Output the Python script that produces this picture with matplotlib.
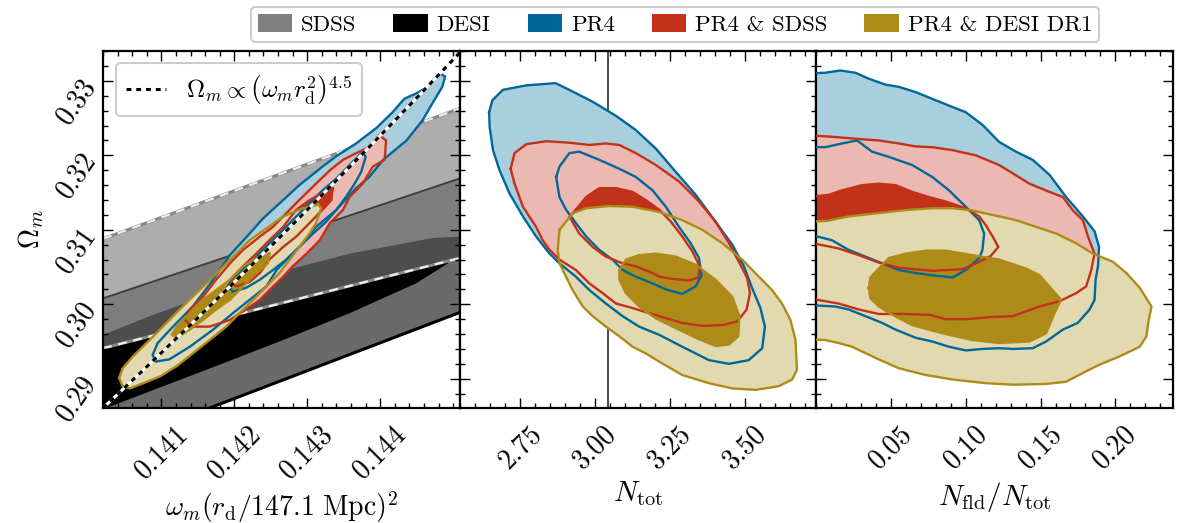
import numpy as np
import matplotlib
matplotlib.use('Agg')
import matplotlib.pyplot as plt
from matplotlib.patches import Patch
from matplotlib.ticker import MultipleLocator, FixedLocator

plt.rcParams['font.family'] = 'serif'
plt.rcParams['font.serif'] = ['cmr10']
plt.rcParams['mathtext.fontset'] = 'cm'
plt.rcParams['axes.unicode_minus'] = False
plt.rcParams['axes.formatter.use_mathtext'] = True

# colours
blue, blue_lt = '#00679a', '#a9cedd'
red, red_lt = '#c2311a', '#ebb9b2'
gold, gold_lt = '#ae8b18', '#e2d9b1'

# ---------------- panel 1: Omega_m vs omega_m r_d^2 ----------------
# BAO bands
band_x = [0.14020, 0.14509]
sdss_outer_hi = [0.3088, 0.3263]      # upper dashed edge
sdss_inner_hi = [0.3008, 0.3169]      # solid edge
bao_mid = [0.2941, 0.3062]            # white dashed edge
desi_outer_lo = [0.2806, 0.2989]      # thick black edge
desi_curve_x = [0.14020, 0.14084, 0.14221, 0.14358, 0.14472, 0.14509]
desi_curve_y = [0.2959, 0.2984, 0.3033, 0.3068, 0.3089, 0.3091]
desi_lens_x = [0.14020, 0.14084, 0.14175, 0.14267, 0.14358, 0.14449, 0.14493]
desi_lens_y = [0.2859, 0.2883, 0.2917, 0.2952, 0.2988, 0.3028, 0.3055]
desi_lens_top_x = [0.14493, 0.14020]
desi_lens_top_y = [0.3058, 0.2941]

ref_anchor = (0.14020, 0.28607)   # point on Omega_m ~ (omega_m r_d^2)^4.5
ref_power = 4.5

p1 = {
    'PR4': {
        'outer': ([0.14482, 0.14489, 0.14485, 0.14474, 0.14458, 0.14436, 0.14404, 0.14385, 0.14367, 0.14340,
                   0.14312, 0.14294, 0.14276, 0.14258, 0.14244, 0.14221, 0.14198, 0.14171, 0.14139, 0.14111,
                   0.14092, 0.14088, 0.14095, 0.14116, 0.14143, 0.14171, 0.14194, 0.14221, 0.14239, 0.14267,
                   0.14289, 0.14321, 0.14340, 0.14367, 0.14395, 0.14417, 0.14433, 0.14449, 0.14465, 0.14474],
                  [0.3310, 0.3306, 0.3292, 0.3274, 0.3247, 0.3220, 0.3194, 0.3171, 0.3156, 0.3127,
                   0.3104, 0.3082, 0.3064, 0.3046, 0.3024, 0.3006, 0.2988, 0.2966, 0.2943, 0.2926,
                   0.2923, 0.2932, 0.2948, 0.2970, 0.2997, 0.3033, 0.3066, 0.3095, 0.3115, 0.3140,
                   0.3160, 0.3185, 0.3199, 0.3216, 0.3237, 0.3258, 0.3276, 0.3283, 0.3292, 0.3303]),
        'inner': ([0.14376, 0.14380, 0.14374, 0.14365, 0.14353, 0.14340, 0.14326, 0.14308, 0.14289, 0.14271,
                   0.14253, 0.14235, 0.14216, 0.14198, 0.14191, 0.14198, 0.14212, 0.14230, 0.14248, 0.14267,
                   0.14285, 0.14303, 0.14321, 0.14340, 0.14358, 0.14369],
                  [0.3205, 0.3198, 0.3178, 0.3162, 0.3144, 0.3127, 0.3111, 0.3095, 0.3077, 0.3060,
                   0.3046, 0.3033, 0.3022, 0.3017, 0.3024, 0.3035, 0.3048, 0.3064, 0.3082, 0.3100,
                   0.3118, 0.3136, 0.3153, 0.3169, 0.3187, 0.3198]),
    },
    'PR4 & SDSS': {
        'outer': ([0.14399, 0.14408, 0.14406, 0.14390, 0.14376, 0.14358, 0.14349, 0.14331, 0.14317, 0.14299,
                   0.14280, 0.14267, 0.14248, 0.14235, 0.14216, 0.14194, 0.14166, 0.14143, 0.14132, 0.14139,
                   0.14157, 0.14175, 0.14194, 0.14212, 0.14235, 0.14253, 0.14276, 0.14289, 0.14312, 0.14331,
                   0.14349, 0.14367, 0.14385],
                  [0.3227, 0.3220, 0.3194, 0.3185, 0.3162, 0.3144, 0.3127, 0.3109, 0.3086, 0.3068,
                   0.3051, 0.3037, 0.3019, 0.3006, 0.2993, 0.2979, 0.2970, 0.2970, 0.2979, 0.2993,
                   0.3010, 0.3033, 0.3055, 0.3073, 0.3091, 0.3104, 0.3127, 0.3140, 0.3162, 0.3180,
                   0.3194, 0.3203, 0.3211]),
        'inner': ([0.14335, 0.14333, 0.14321, 0.14303, 0.14285, 0.14267, 0.14248, 0.14235, 0.14221, 0.14203,
                   0.14196, 0.14198, 0.14212, 0.14230, 0.14248, 0.14267, 0.14285, 0.14303, 0.14321],
                  [0.3156, 0.3140, 0.3127, 0.3109, 0.3091, 0.3077, 0.3060, 0.3042, 0.3030, 0.3024,
                   0.3028, 0.3037, 0.3051, 0.3068, 0.3086, 0.3104, 0.3127, 0.3140, 0.3149]),
    },
    'PR4 & DESI DR1': {
        'outer': ([0.14315, 0.14319, 0.14312, 0.14303, 0.14289, 0.14276, 0.14262, 0.14244, 0.14226, 0.14207,
                   0.14189, 0.14166, 0.14143, 0.14121, 0.14098, 0.14075, 0.14057, 0.14047, 0.14042, 0.14047,
                   0.14061, 0.14084, 0.14125, 0.14171, 0.14221, 0.14267, 0.14294],
                  [0.3134, 0.3129, 0.3109, 0.3095, 0.3077, 0.3060, 0.3042, 0.3024, 0.3006, 0.2988,
                   0.2970, 0.2952, 0.2934, 0.2917, 0.2903, 0.2894, 0.2887, 0.2890, 0.2901, 0.2914,
                   0.2930, 0.2952, 0.2993, 0.3037, 0.3086, 0.3118, 0.3129]),
        'inner': ([0.14248, 0.14246, 0.14230, 0.14212, 0.14194, 0.14175, 0.14157, 0.14139, 0.14121, 0.14114,
                   0.14121, 0.14139, 0.14157, 0.14175, 0.14194, 0.14212, 0.14230],
                  [0.3068, 0.3055, 0.3042, 0.3024, 0.3006, 0.2993, 0.2979, 0.2966, 0.2955, 0.2959,
                   0.2970, 0.2988, 0.3006, 0.3019, 0.3033, 0.3051, 0.3062]),
    },
}

# ---------------- panel 2: Omega_m vs N_tot ----------------
n_std = 3.044
p2 = {
    'PR4': {
        'outer': ([2.646, 2.648, 2.659, 2.681, 2.714, 2.759, 2.803, 2.848, 2.881, 2.936, 2.981, 3.036, 3.092,
                   3.147, 3.214, 3.291, 3.380, 3.447, 3.513, 3.558, 3.567, 3.552, 3.524, 3.497, 3.458, 3.402,
                   3.336, 3.269, 3.203, 3.136, 3.070, 2.992, 2.914, 2.868, 2.770, 2.692, 2.657],
                  [0.3258, 0.3238, 0.3207, 0.3180, 0.3149, 0.3118, 0.3091, 0.3068, 0.3055, 0.3037, 0.3019,
                   0.3001, 0.2984, 0.2970, 0.2959, 0.2943, 0.2925, 0.2920, 0.2925, 0.2941, 0.2970, 0.2995,
                   0.3022, 0.3051, 0.3080, 0.3111, 0.3147, 0.3178, 0.3209, 0.3234, 0.3253, 0.3272, 0.3288,
                   0.3297, 0.3294, 0.3288, 0.3274]),
        'inner': ([2.870, 2.881, 2.914, 2.947, 3.014, 3.081, 3.136, 3.192, 3.236, 3.280, 3.319, 3.347, 3.355,
                   3.336, 3.291, 3.236, 3.192, 3.136, 3.092, 3.058, 3.014, 2.970, 2.936, 2.903, 2.881],
                  [0.3171, 0.3185, 0.3203, 0.3205, 0.3194, 0.3182, 0.3171, 0.3153, 0.3131, 0.3104, 0.3082,
                   0.3062, 0.3039, 0.3024, 0.3014, 0.3020, 0.3028, 0.3037, 0.3046, 0.3060, 0.3073, 0.3091,
                   0.3109, 0.3127, 0.3144]),
    },
    'PR4 & SDSS': {
        'outer': ([2.718, 2.731, 2.770, 2.837, 2.914, 2.981, 3.036, 3.081, 3.136, 3.203, 3.280, 3.347, 3.402,
                   3.447, 3.480, 3.508, 3.517, 3.506, 3.475, 3.425, 3.358, 3.291, 3.214, 3.180, 3.125, 3.070,
                   3.025, 2.981, 2.936, 2.881, 2.848, 2.825, 2.803, 2.759, 2.731],
                  [0.3182, 0.3203, 0.3215, 0.3219, 0.3217, 0.3214, 0.3216, 0.3214, 0.3203, 0.3187, 0.3165,
                   0.3138, 0.3111, 0.3082, 0.3057, 0.3035, 0.3015, 0.2993, 0.2977, 0.2972, 0.2971, 0.2975,
                   0.2984, 0.2988, 0.2995, 0.3001, 0.3015, 0.3028, 0.3046, 0.3060, 0.3073, 0.3086, 0.3104,
                   0.3131, 0.3162]),
        'inner': ([2.925, 2.970, 3.014, 3.070, 3.125, 3.169, 3.214, 3.253, 3.291, 3.325, 3.349, 3.345, 3.314,
                   3.258, 3.214, 3.192, 3.136, 3.092, 3.036, 2.992, 2.947, 2.914],
                  [0.3122, 0.3144, 0.3156, 0.3156, 0.3151, 0.3140, 0.3127, 0.3111, 0.3091, 0.3071, 0.3051,
                   0.3036, 0.3032, 0.3034, 0.3037, 0.3042, 0.3051, 0.3055, 0.3064, 0.3077, 0.3095, 0.3118]),
    },
    'PR4 & DESI DR1': {
        'outer': ([2.881, 2.925, 2.970, 3.047, 3.125, 3.214, 3.291, 3.358, 3.425, 3.491, 3.547, 3.591, 3.624,
                   3.652, 3.669, 3.674, 3.658, 3.613, 3.536, 3.458, 3.380, 3.291, 3.214, 3.169, 3.125, 3.081,
                   3.036, 2.992, 2.959, 2.925, 2.903, 2.881, 2.875],
                  [0.3100, 0.3122, 0.3129, 0.3132, 0.3131, 0.3124, 0.3113, 0.3100, 0.3082, 0.3060, 0.3037,
                   0.3019, 0.3001, 0.2979, 0.2952, 0.2912, 0.2899, 0.2890, 0.2885, 0.2887, 0.2894, 0.2905,
                   0.2923, 0.2934, 0.2943, 0.2957, 0.2970, 0.2984, 0.2997, 0.3019, 0.3037, 0.3055, 0.3073]),
        'inner': ([3.081, 3.103, 3.147, 3.203, 3.269, 3.336, 3.402, 3.458, 3.482, 3.478, 3.447, 3.402, 3.336,
                   3.269, 3.203, 3.147, 3.103, 3.081],
                  [0.3046, 0.3060, 0.3066, 0.3068, 0.3064, 0.3053, 0.3033, 0.3010, 0.2984, 0.2957, 0.2946,
                   0.2944, 0.2955, 0.2968, 0.2981, 0.2997, 0.3015, 0.3033]),
    },
}

# ---------------- panel 3: Omega_m vs N_fld/N_tot ----------------
p3 = {
    'PR4': {
        'outer': ([-0.005, 0.0059, 0.0160, 0.0260, 0.0350, 0.0462, 0.0552, 0.0664, 0.0798, 0.0910, 0.0999,
                   0.1111, 0.1223, 0.1335, 0.1447, 0.1559, 0.1671, 0.1783, 0.1861, 0.1891, 0.1884, 0.1868,
                   0.1861, 0.1828, 0.1749, 0.1649, 0.1537, 0.1447, 0.1313, 0.1223, 0.1111, 0.0999, 0.0887,
                   0.0775, 0.0664, 0.0529, 0.0440, 0.0328, 0.0216, 0.0126, -0.005],
                  [0.3310, 0.3311, 0.3314, 0.3311, 0.3303, 0.3295, 0.3292, 0.3285, 0.3274, 0.3265, 0.3258,
                   0.3241, 0.3218, 0.3205, 0.3194, 0.3174, 0.3144, 0.3118, 0.3098, 0.3077, 0.3051, 0.3033,
                   0.3006, 0.2993, 0.2975, 0.2966, 0.2950, 0.2941, 0.2940, 0.2941, 0.2940, 0.2938, 0.2943,
                   0.2950, 0.2955, 0.2966, 0.2975, 0.2984, 0.2993, 0.2997, 0.2999]),
        'inner': ([-0.005, 0.0059, 0.0171, 0.0272, 0.0372, 0.0484, 0.0641, 0.0775, 0.0887, 0.0999, 0.1089,
                   0.1122, 0.1111, 0.1089, 0.0999, 0.0910, 0.0775, 0.0664, 0.0552, 0.0440, 0.0328, 0.0216,
                   0.0104, -0.005],
                  [0.3211, 0.3211, 0.3216, 0.3220, 0.3205, 0.3198, 0.3187, 0.3171, 0.3153, 0.3131, 0.3113,
                   0.3095, 0.3073, 0.3062, 0.3046, 0.3036, 0.3039, 0.3042, 0.3046, 0.3055, 0.3064, 0.3073,
                   0.3086, 0.3094]),
    },
    'PR4 & SDSS': {
        'outer': ([-0.005, 0.0104, 0.0283, 0.0417, 0.0552, 0.0664, 0.0775, 0.0910, 0.1067, 0.1223, 0.1313,
                   0.1425, 0.1559, 0.1649, 0.1716, 0.1783, 0.1817, 0.1861, 0.1839, 0.1805, 0.1738, 0.1626,
                   0.1492, 0.1313, 0.1179, 0.0999, 0.0865, 0.0753, 0.0552, 0.0417, 0.0283, 0.0148, -0.005],
                  [0.3227, 0.3225, 0.3222, 0.3220, 0.3216, 0.3212, 0.3211, 0.3207, 0.3200, 0.3187, 0.3176,
                   0.3162, 0.3151, 0.3144, 0.3126, 0.3113, 0.3091, 0.3068, 0.3046, 0.3024, 0.3015, 0.3004,
                   0.2997, 0.2984, 0.2983, 0.2980, 0.2980, 0.2986, 0.2987, 0.2987, 0.2993, 0.3001, 0.3008]),
        'inner': ([-0.005, 0.0081, 0.0171, 0.0305, 0.0417, 0.0529, 0.0641, 0.0753, 0.0865, 0.0999, 0.1089,
                   0.1134, 0.1179, 0.1217, 0.1167, 0.1089, 0.0977, 0.0775, 0.0552, 0.0417, 0.0283, 0.0148,
                   -0.005],
                  [0.3144, 0.3147, 0.3153, 0.3160, 0.3162, 0.3160, 0.3151, 0.3144, 0.3138, 0.3129, 0.3118,
                   0.3106, 0.3091, 0.3077, 0.3065, 0.3057, 0.3047, 0.3045, 0.3049, 0.3056, 0.3066, 0.3075,
                   0.3083]),
    },
    'PR4 & DESI DR1': {
        'outer': ([-0.005, 0.0070, 0.0216, 0.0350, 0.0484, 0.0619, 0.0775, 0.0910, 0.1044, 0.1179, 0.1335,
                   0.1470, 0.1604, 0.1738, 0.1850, 0.1985, 0.2074, 0.2164, 0.2242, 0.2220, 0.2208, 0.2164,
                   0.2029, 0.1895, 0.1805, 0.1671, 0.1537, 0.1313, 0.1134, 0.0910, 0.0731, 0.0552, 0.0395,
                   0.0238, 0.0148, 0.0059, -0.005],
                  [0.3111, 0.3112, 0.3118, 0.3121, 0.3124, 0.3127, 0.3129, 0.3129, 0.3126, 0.3120, 0.3113,
                   0.3104, 0.3095, 0.3082, 0.3068, 0.3057, 0.3042, 0.3022, 0.2997, 0.2975, 0.2957, 0.2943,
                   0.2930, 0.2919, 0.2910, 0.2896, 0.2893, 0.2892, 0.2894, 0.2899, 0.2905, 0.2914, 0.2928,
                   0.2943, 0.2948, 0.2952, 0.2953]),
        'inner': ([0.0350, 0.0361, 0.0417, 0.0484, 0.0596, 0.0731, 0.0865, 0.1044, 0.1223, 0.1402, 0.1492,
                   0.1559, 0.1637, 0.1593, 0.1537, 0.1425, 0.1223, 0.1044, 0.0843, 0.0641, 0.0507, 0.0417,
                   0.0361],
                  [0.3022, 0.3036, 0.3048, 0.3062, 0.3068, 0.3072, 0.3072, 0.3066, 0.3060, 0.3048, 0.3039,
                   0.3024, 0.3006, 0.2988, 0.2961, 0.2950, 0.2948, 0.2952, 0.2961, 0.2972, 0.2986, 0.2997,
                   0.3008]),
    },
}

styles = {
    'PR4': (blue, blue_lt, None),
    'PR4 & SDSS': (red, red_lt, red),
    'PR4 & DESI DR1': (gold, gold_lt, gold),
}


def draw_contours(ax, data):
    # fills first (outer light, inner dark), then every outline on top
    for name, c in data.items():
        line, light, dark = styles[name]
        ax.fill(*c['outer'], color=light, lw=0, zorder=2)
        if dark is not None:
            ax.fill(*c['inner'], color=dark, lw=0, zorder=2)
    for name, c in data.items():
        line = styles[name][0]
        for lev in ('outer', 'inner'):
            x, y = c[lev]
            ax.plot(np.append(x, x[0]), np.append(y, y[0]), color=line, lw=1.7, zorder=3,
                    solid_joinstyle='round')


fig = plt.figure(figsize=(11.8, 5.23), dpi=100)
w, h = 0.3023, 0.6826
b = 0.2199
ax1 = fig.add_axes([0.0873, b, w, h])
ax2 = fig.add_axes([0.0873 + w, b, w, h])
ax3 = fig.add_axes([0.0873 + 2 * w, b, w, h])

# panel 1 background bands
ax1.fill(band_x + band_x[::-1], bao_mid + sdss_outer_hi[::-1], color='#adadad', lw=0, zorder=1)
ax1.fill(band_x + band_x[::-1], bao_mid + sdss_inner_hi[::-1], color='#7d7d7d', lw=0, zorder=1)
ax1.fill(band_x + desi_curve_x[::-1], bao_mid + desi_curve_y[::-1], color='#4d4d4d', lw=0, zorder=1)
ax1.fill(band_x + band_x[::-1], desi_outer_lo + bao_mid[::-1], color='#6a6a6a', lw=0, zorder=1)
ax1.fill(desi_lens_x + desi_lens_top_x, desi_lens_y + desi_lens_top_y, color='black', lw=0, zorder=1)
ax1.plot(band_x, sdss_inner_hi, color='#3c3c3c', lw=1.3, zorder=1)
for yy in (sdss_outer_hi, bao_mid):
    ax1.plot(band_x, yy, color='#888888', lw=2.2, zorder=1)
    ax1.plot(band_x, yy, color='#eeeeee', lw=1.6, dashes=(4, 3), zorder=1)
ax1.plot(band_x, desi_outer_lo, color='black', lw=2.2, zorder=1)

draw_contours(ax1, p1)

xr = np.linspace(0.1402, 0.1451, 100)
yr = ref_anchor[1] * (xr / ref_anchor[0]) ** ref_power
ax1.plot(xr, yr, color='white', lw=2.2, zorder=4)
ref_line, = ax1.plot(xr, yr, color='black', lw=2.2, dashes=(1.6, 1.6), zorder=5,
                     label=r'$\Omega_m \propto \left(\omega_m r_{\rm d}^2\right)^{4.5}$')
leg1 = ax1.legend(handles=[ref_line], loc='upper left', fontsize=18, handlelength=1.6,
                  handletextpad=0.8, borderpad=0.4, framealpha=1, edgecolor='#cccccc', fancybox=True)
leg1.get_frame().set_linewidth(1.5)

ax2.axvline(n_std, color='#3a3a3a', lw=1.3, zorder=1)
draw_contours(ax2, p2)
draw_contours(ax3, p3)

ax1.set_xlim(0.14020, 0.14509)
ax2.set_xlim(2.548, 3.739)
ax3.set_xlim(0.0, 0.2387)

for ax in (ax1, ax2, ax3):
    ax.set_ylim(0.28607, 0.33402)
    ax.yaxis.set_major_locator(FixedLocator([0.29, 0.30, 0.31, 0.32, 0.33]))
    ax.yaxis.set_minor_locator(MultipleLocator(0.002))
    ax.tick_params(which='both', direction='in', top=True, right=True, width=1.0)
    ax.tick_params(which='major', length=7, labelsize=20, pad=9)
    ax.tick_params(which='minor', length=3.5)
    for s in ax.spines.values():
        s.set_linewidth(1.6)

ax1.set_xticks([0.141, 0.142, 0.143, 0.144], ['0.141', '0.142', '0.143', '0.144'])
ax1.xaxis.set_minor_locator(MultipleLocator(0.0002))
ax2.set_xticks([2.75, 3.0, 3.25, 3.5], ['2.75', '3.00', '3.25', '3.50'])
ax2.xaxis.set_minor_locator(MultipleLocator(0.05))
ax3.set_xticks([0.05, 0.10, 0.15, 0.20], ['0.05', '0.10', '0.15', '0.20'])
ax3.xaxis.set_minor_locator(MultipleLocator(0.01))

ax1.set_yticks([0.29, 0.30, 0.31, 0.32, 0.33], ['0.29', '0.30', '0.31', '0.32', '0.33'])
for lab in ax1.get_yticklabels():
    lab.set_rotation(55)
    lab.set_rotation_mode('anchor')
    lab.set_ha('right')
    lab.set_va('center')
for ax in (ax2, ax3):
    ax.tick_params(axis='y', labelleft=False)
for ax in (ax1, ax2, ax3):
    ax.tick_params(axis='x', labelrotation=45)

ax1.set_ylabel(r'$\Omega_m$', fontsize=20, labelpad=4)
ax1.set_xlabel(r'$\omega_m(r_{\rm d}/147.1\ {\rm Mpc})^2$', fontsize=20, labelpad=4)
ax2.set_xlabel(r'$N_{\rm tot}$', fontsize=21, labelpad=4)
ax3.set_xlabel(r'$N_{\rm fld}/N_{\rm tot}$', fontsize=21, labelpad=4)

names = ['SDSS', 'DESI', 'PR4', 'PR4 & SDSS', 'PR4 & DESI DR1']
patch_cols = ['#808080', 'black', blue, red, gold]
handles = [Patch(facecolor=c, edgecolor='none', label=n) for n, c in zip(names, patch_cols)]
leg = fig.legend(handles=handles, loc='upper center', bbox_to_anchor=(0.572, 1.008), ncol=5,
                 fontsize=16.5, handlelength=1.5, handleheight=0.8, handletextpad=0.4,
                 columnspacing=1.6, borderpad=0.3, framealpha=1, edgecolor='#cccccc', fancybox=True)
leg.get_frame().set_linewidth(1.5)

fig.savefig('out.png', dpi=100)
